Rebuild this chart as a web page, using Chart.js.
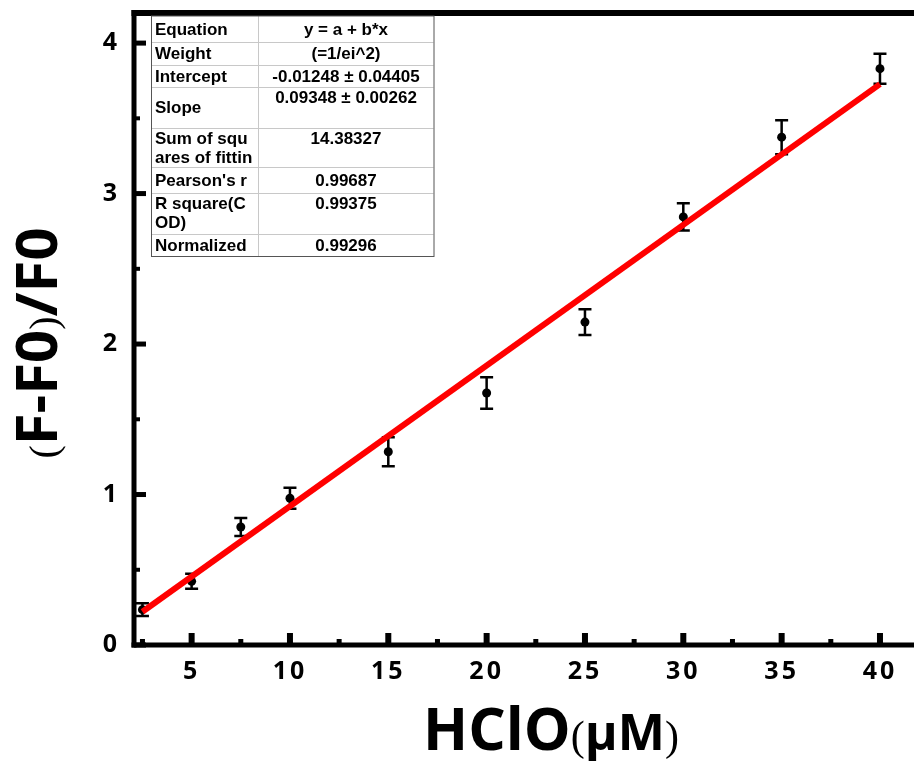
<!DOCTYPE html>
<html>
<head>
<meta charset="utf-8">
<script src="https://cdn.jsdelivr.net/npm/chart.js@4.4.1/dist/chart.umd.min.js"></script>
<style>
  html, body { margin: 0; padding: 0; background: #fff; }
  #wrap { width: 914px; height: 761px; }
</style>
</head>
<body>
<div id="wrap"><canvas id="chart" width="914" height="761"></canvas></div>
<script>
// HClO concentration (uM) vs (F-F0)/F0
const concentrations = [2.5, 5, 7.5, 10, 15, 20, 25, 30, 35, 40];
const ratios = [0.235, 0.423, 0.784, 0.975, 1.284, 1.675, 2.146, 2.845, 3.375, 3.83];
const errors = [0.042, 0.05, 0.06, 0.07, 0.096, 0.105, 0.086, 0.09, 0.113, 0.1];

// linear fit end points
const fitX = [2.5, 40];
const fitY = [0.221, 3.727];

const xTicks = [5, 10, 15, 20, 25, 30, 35, 40];
const xMinorTicks = [2.5, 7.5, 12.5, 17.5, 22.5, 27.5, 32.5, 37.5];
const yTicks = [0, 1, 2, 3, 4];
const yMinorTicks = [0.5, 1.5, 2.5, 3.5];

const tableLabels = [
  ["Equation"], ["Weight"], ["Intercept"], ["Slope"],
  ["Sum of squ", "ares of fittin"], ["Pearson's r"],
  ["R square(C", "OD)"], ["Normalized"]
];
const tableValues = [
  "y = a + b*x", "(=1/ei^2)", "-0.01248 \u00b1 0.04405", "0.09348 \u00b1 0.00262",
  "14.38327", "0.99687", "0.99375", "0.99296"
];

const SANS = '"Open Sans", "Noto Sans", sans-serif';
const SERIF = '"Liberation Serif", "DejaVu Serif", serif';

// spaced tick digits, switched off again before the marks
const spacing = {
  id: "spacing",
  beforeDraw(chart) { chart.ctx.letterSpacing = "3px"; },
  beforeDatasetsDraw(chart) { chart.ctx.letterSpacing = "0px"; }
};

const errorBars = {
  id: "errorBars",
  beforeDatasetsDraw(chart) {
    const { ctx, scales: { x, y } } = chart;
    ctx.save();
    ctx.strokeStyle = "#000";
    ctx.lineWidth = 2.5;
    concentrations.forEach((c, i) => {
      const px = x.getPixelForValue(c);
      const top = y.getPixelForValue(ratios[i] + errors[i]);
      const bot = y.getPixelForValue(ratios[i] - errors[i]);
      ctx.beginPath();
      ctx.moveTo(px, top); ctx.lineTo(px, bot);
      ctx.moveTo(px - 6.5, top); ctx.lineTo(px + 6.5, top);
      ctx.moveTo(px - 6.5, bot); ctx.lineTo(px + 6.5, bot);
      ctx.stroke();
    });
    ctx.restore();
  }
};

const frame = {
  id: "frame",
  afterDraw(chart) {
    const { ctx, chartArea: a, scales: { x, y } } = chart;
    ctx.save();
    ctx.letterSpacing = "0px";
    ctx.fillStyle = "#000";
    // axis lines
    ctx.fillRect(a.left - 2.5, a.top - 3, 5, a.bottom - a.top + 5.5);
    ctx.fillRect(a.left - 2.5, a.top - 3, a.right - a.left + 2.5, 6);
    ctx.fillRect(a.left - 2.5, a.bottom - 2.5, a.right - a.left + 2.5, 5);
    // inward ticks
    xTicks.forEach(v => ctx.fillRect(x.getPixelForValue(v) - 3, a.bottom - 12, 6, 12));
    xMinorTicks.forEach(v => ctx.fillRect(x.getPixelForValue(v) - 2.5, a.bottom - 6, 5, 6));
    yTicks.forEach(v => ctx.fillRect(a.left, y.getPixelForValue(v) - 2.5, 12, 5));
    yMinorTicks.forEach(v => ctx.fillRect(a.left, y.getPixelForValue(v) - 2, 6, 4));

    // x title: HClO(μM)
    drawParts(ctx, [
      ["HClO", "bold 59px " + SANS],
      ["(", "42px " + SERIF],
      ["\u03bcM", "bold 50px " + SANS],
      [")", "42px " + SERIF]
    ], 551, 750);

    // y title: (F-F0)/F0
    ctx.translate(57, 343);
    ctx.rotate(-Math.PI / 2);
    drawParts(ctx, [
      ["(", "40px " + SERIF],
      ["F-F0", "bold 58px " + SANS],
      [")", "40px " + SERIF],
      ["/F0", "bold 58px " + SANS]
    ], 0, 0);
    ctx.restore();

    drawTable(ctx);
  }
};

function drawParts(ctx, parts, cx, baseline) {
  let total = 0;
  parts.forEach(p => { ctx.font = p[1]; total += ctx.measureText(p[0]).width; });
  let cur = cx - total / 2;
  ctx.textAlign = "left";
  ctx.textBaseline = "alphabetic";
  parts.forEach(p => {
    ctx.font = p[1];
    ctx.fillText(p[0], cur, baseline);
    cur += ctx.measureText(p[0]).width;
  });
}

function drawTable(ctx) {
  const rows = [16, 42.3, 65, 87.3, 128.3, 166.7, 193.3, 234, 256];
  const left = 151, mid = 258.5, right = 433.5;
  ctx.save();
  ctx.fillStyle = "#fff";
  ctx.fillRect(left, rows[0], right - left, rows[rows.length - 1] - rows[0]);
  ctx.lineWidth = 1;
  ctx.strokeStyle = "#c8c8c8";
  ctx.beginPath();
  for (let i = 1; i < rows.length - 1; i++) {
    ctx.moveTo(left, Math.round(rows[i]) + 0.5);
    ctx.lineTo(right, Math.round(rows[i]) + 0.5);
  }
  ctx.moveTo(mid, rows[0]); ctx.lineTo(mid, rows[rows.length - 1]);
  ctx.stroke();
  ctx.strokeStyle = "#555";
  ctx.strokeRect(left + 0.5, rows[0], right - left, Math.round(rows[rows.length - 1] - rows[0]) + 0.5);

  ctx.fillStyle = "#000";
  ctx.font = "bold 17px " + '"Liberation Sans", Arial, sans-serif';
  ctx.textBaseline = "middle";
  tableLabels.forEach((lines, i) => {
    const top = rows[i], bot = rows[i + 1];
    ctx.textAlign = "left";
    if (lines.length === 1) {
      ctx.fillText(lines[0], left + 4, (top + bot) / 2 + 1);
    } else {
      lines.forEach((t, k) => ctx.fillText(t, left + 4, top + 11 + k * 19));
    }
    ctx.textAlign = "center";
    const vy = bot - top > 30 ? top + 11 : (top + bot) / 2 + 1;
    ctx.fillText(tableValues[i], (mid + right) / 2, vy);
  });
  ctx.restore();
}

new Chart(document.getElementById("chart"), {
  type: "scatter",
  data: {
    datasets: [
      {
        label: "fit",
        data: fitX.map((v, i) => ({ x: v, y: fitY[i] })),
        showLine: true,
        borderColor: "#ff0000",
        borderWidth: 6,
        pointRadius: 0,
        fill: false
      },
      {
        label: "data",
        data: concentrations.map((v, i) => ({ x: v, y: ratios[i] })),
        backgroundColor: "#000",
        borderWidth: 0,
        pointRadius: 4.5
      }
    ]
  },
  options: {
    responsive: false,
    animation: false,
    devicePixelRatio: 1,
    layout: { autoPadding: false, padding: { top: 13, right: 0, left: 0, bottom: 0 } },
    plugins: { legend: { display: false }, tooltip: { enabled: false } },
    scales: {
      x: {
        type: "linear",
        min: 2.07,
        max: 41.73,
        afterBuildTicks: s => { s.ticks = xTicks.map(v => ({ value: v })); },
        afterFit: s => { s.height = 116; s.paddingLeft = 0; s.paddingRight = 0; },
        grid: { display: false, drawTicks: false },
        border: { display: false },
        ticks: {
          color: "#000",
          padding: 12,
          maxRotation: 0,
          font: { family: SANS, size: 25, weight: "bold" }
        }
      },
      y: {
        min: 0,
        max: 4.2,
        afterBuildTicks: s => { s.ticks = yTicks.map(v => ({ value: v })); },
        afterFit: s => { s.width = 134; s.paddingTop = 0; s.paddingBottom = 0; },
        grid: { display: false, drawTicks: false },
        border: { display: false },
        ticks: {
          color: "#000",
          padding: 14,
          font: { family: SANS, size: 25, weight: "bold" }
        }
      }
    }
  },
  plugins: [spacing, errorBars, frame]
});
</script>
</body>
</html>
